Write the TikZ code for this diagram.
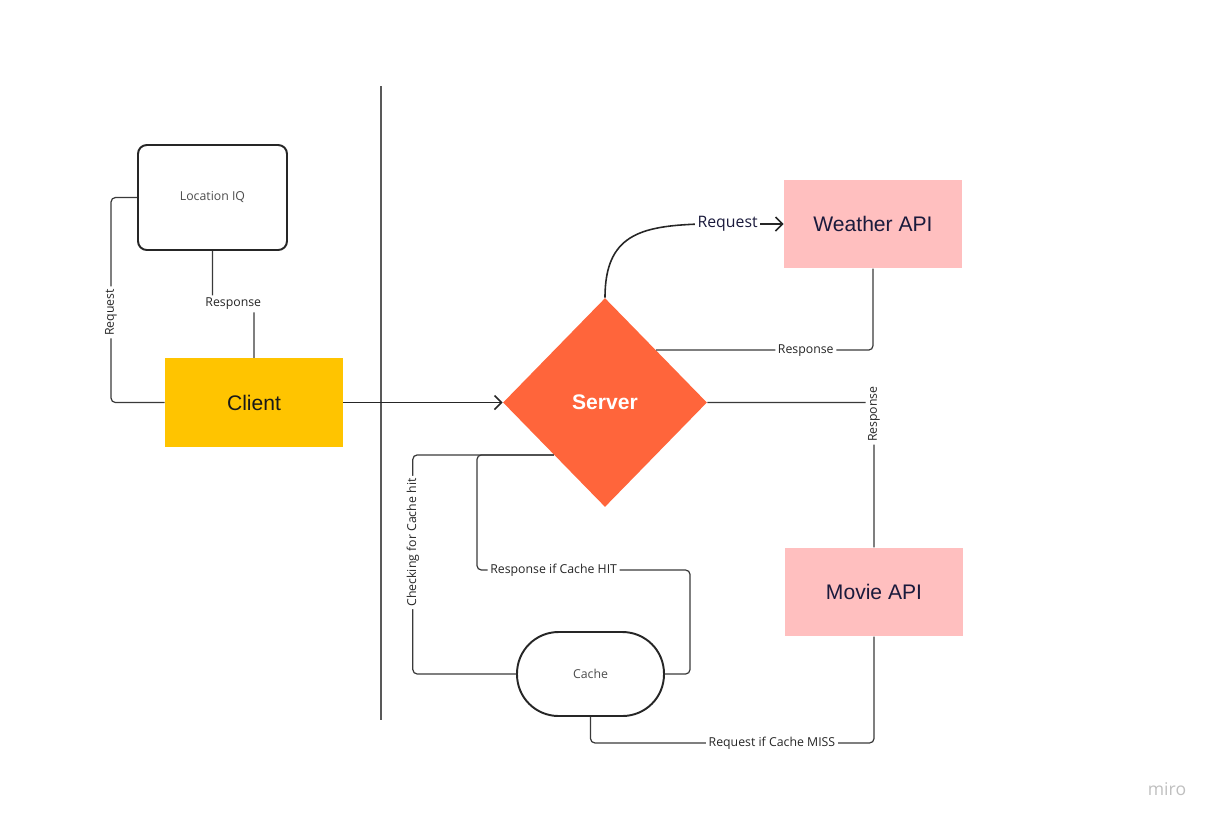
\documentclass[tikz,border=0pt]{standalone}
\usepackage{fontspec}
\setmainfont{Open Sans}
\newfontfamily\arialfont{Liberation Sans}
\usetikzlibrary{shapes.geometric,arrows.meta}
\definecolor{clientyellow}{HTML}{FFC400}
\definecolor{serverorange}{HTML}{FF653B}
\definecolor{apipink}{HTML}{FFBFBF}
\definecolor{apitext}{HTML}{1A1A3C}
\definecolor{wirecol}{HTML}{3A3A3A}
\begin{document}
\begin{tikzpicture}[x=0.02cm, y=-0.02cm, >={Straight Barb[length=4pt,width=8pt]},
	wire/.style={draw=wirecol, line width=0.7pt, rounded corners=2.5pt},
	lbl/.style={fill=white, inner sep=1.5pt, text=black!85, font=\fontsize{7}{8}\selectfont},
	apibox/.style={fill=apipink, minimum width=3.56cm, minimum height=1.77cm, inner sep=0pt,
		text=apitext, font=\arialfont\fontsize{12}{14}\selectfont},
	softbox/.style={draw=black!85, line width=1.1pt, inner sep=0pt, text=black!70,
		font=\fontsize{7}{8}\selectfont}]
\useasboundingbox (0,0) rectangle (1214,823);
	% boxes
	\node[softbox, rounded corners=5pt, minimum width=2.98cm, minimum height=2.1cm] (locIQ) at (212.5,197.5) {Location IQ};
	\node[apibox, fill=clientyellow, text=black!90] (client) at (254,402.5) {Client};
	\node[diamond, fill=serverorange, minimum width=4.08cm, minimum height=4.18cm, inner sep=0pt,
		text=white, font=\arialfont\bfseries\fontsize{12}{14}\selectfont] (server) at (605,402.5) {Server};
	\node[apibox] (weather) at (873,224) {Weather API};
	\node[apibox] (movie) at (874,592) {Movie API};
	\node[softbox, rounded corners=0.83cm, minimum width=2.94cm, minimum height=1.68cm] (cache) at (590.5,674) {Cache};
	% divider
	\draw[black!65, line width=0.6pt] (381,86) -- (381,720);
	% client side
	\draw[wire] (locIQ.west) -- ++(-26,0) |- node[lbl, rotate=90, pos=0.28]{Request} (client.west);
	\draw[wire] (locIQ.south) -- ++(0,53) -| node[lbl, pos=0.25]{Response} (client.north);
	\draw[->, draw=black!85, line width=0.9pt] (client.east) -- (server.west);
	% weather api
	\draw[->, draw=black!85, line width=0.9pt] (server.north) .. controls (605,235) and (640,226) .. (700,224)
		-- node[fill=white, inner sep=1.5pt, text=apitext, font=\fontsize{9}{11}\selectfont, pos=0.33]{Request} (weather.west);
	\draw[wire] (weather.south) |- node[lbl, pos=0.655]{Response} (server.north east);
	% movie api
	\draw[wire] (server.east) -| node[lbl, rotate=90, pos=0.54]{Response} (movie.north);
	\draw[wire] (cache.south) -- ++(0,26) -| node[lbl, pos=0.32]{Request if Cache MISS} (movie.south);
	% cache
	\draw[wire] (server.south west) -- ++(-141,0) |- node[lbl, rotate=90, pos=0.2]{Checking for Cache hit} (cache.west);
	\draw[wire] (cache.east) -| (690,570) -- node[lbl, pos=0.64]{Response if Cache HIT} (477,570) |- (server.south west);
	% logo
	\node[text=black!25, font=\fontsize{10}{12}\selectfont] (logo) at (1167,789) {miro};
\end{tikzpicture}
\end{document}
